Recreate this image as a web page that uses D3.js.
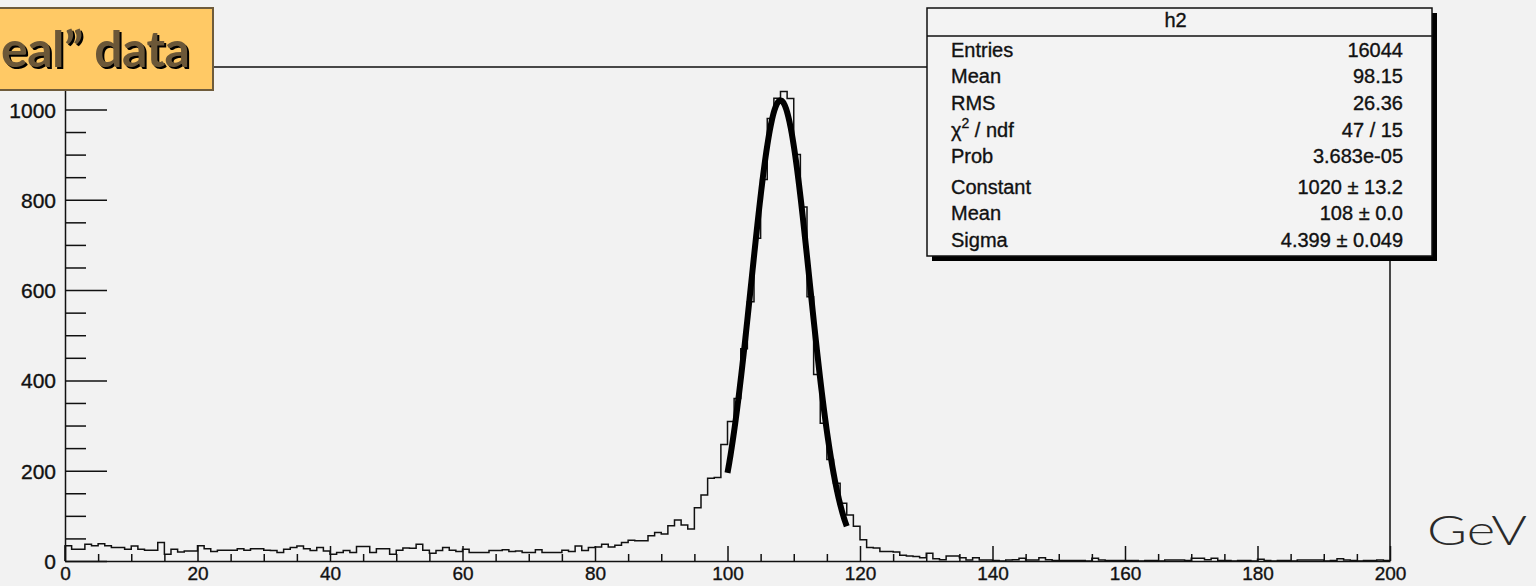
<!DOCTYPE html>
<html>
<head>
<meta charset="utf-8">
<script src="https://cdn.jsdelivr.net/npm/d3@7"></script>
<style>
  html, body { margin: 0; padding: 0; background: #f2f2f2; overflow: hidden; }
  svg { display: block; }
</style>
</head>
<body>
<svg id="chart" width="1536" height="586"></svg>
<script>
// ---------------- data ----------------
const histName = "h2";
const xRange = [0, 200];          // histogram range (GeV), 200 bins of width 1
const yMax = 1094;                // top of frame in counts
const counts = [
  34,26,26,37,34,38,34,30,30,26, 33,26,24,24,41,15,26,20,22,22,
  34,27,21,24,24,24,27,24,27,27, 24,23,19,26,30,33,27,23,30,22,
  15,19,23,19,32,32,19,27,27,15, 24,29,28,37,24,17,23,30,24,21,
  26,19,19,19,23,23,25,21,22,19, 19,25,19,19,19,24,21,33,23,30,
  31,37,31,35,41,46,45,45,56,63, 60,78,91,80,71,118,146,183,185,258,
  309,360,470,574,715,845,980,1025,1040,1024, 900,784,585,413,305,225,172,128,102,77,
  47,30,29,21,21,20,13,11,10,7, 17,5,3,11,11,7,2,7,2,2,
  1,0,2,3,6,2,2,7,3,1, 1,1,1,1,0,6,2,1,1,1,
  1,1,0,1,1,0,2,2,2,1, 6,6,3,6,1,1,0,1,1,0,
  4,1,0,1,1,0,2,2,2,2, 0,1,5,2,1,0,1,1,2,1
];
const xMajorTicks = [0, 20, 40, 60, 80, 100, 120, 140, 160, 180, 200];
const yMajorTicks = [0, 200, 400, 600, 800, 1000];
const statLabels = ["Entries", "Mean", "RMS", "χ² / ndf", "Prob", "Constant", "Mean", "Sigma"];
const statValues = ["16044", "98.15", "26.36", "47 / 15", "3.683e-05", "1020 ± 13.2", "108 ± 0.0", "4.399 ± 0.049"];
const fitConstant = 1020;
const fitMean = 108;
const fitSigma = 4.399;
const fitRange = [100, 118];
const labelText = "eal” data";   // visible part of the (cropped) “Real” data label
const unitText = "GeV";

// ---------------- layout ----------------
const svg = d3.select("#chart");
const W = 1536, H = 586;
const plot = { left: 65, right: 1390, top: 67, bottom: 561 };
const axisFont = "'Liberation Sans', Arial, Helvetica, sans-serif";

svg.append("rect").attr("width", W).attr("height", H).attr("fill", "#f2f2f2");

const x = d3.scaleLinear().domain(xRange).range([plot.left, plot.right]);
const y = d3.scaleLinear().domain([0, yMax]).range([plot.bottom, plot.top]);

// frame
svg.append("path")
  .attr("d", `M${plot.left},${plot.top}H${plot.right}V${plot.bottom}`)
  .attr("fill", "none").attr("stroke", "#111").attr("stroke-width", 1.5);

// histogram step outline
const nb = counts.length;
const bw = (xRange[1] - xRange[0]) / nb;
let d = `M${x(xRange[0])},${y(0)}`;
counts.forEach((c, i) => {
  const x0 = xRange[0] + i * bw;
  d += `V${y(c)}H${x(x0 + bw)}`;
});
d += `V${y(0)}`;
svg.append("path").attr("d", d)
  .attr("fill", "none").attr("stroke", "#111").attr("stroke-width", 1.5)
  .attr("stroke-linejoin", "miter");

// fit curve (gaussian from fit parameters)
const fitPts = d3.range(0, 201).map(i => {
  const xv = fitRange[0] + (fitRange[1] - fitRange[0]) * i / 200;
  return [xv, fitConstant * Math.exp(-((xv - fitMean) ** 2) / (2 * fitSigma * fitSigma))];
});
svg.append("path")
  .attr("d", d3.line().x(p => x(p[0])).y(p => y(p[1]))(fitPts))
  .attr("fill", "none").attr("stroke", "#000").attr("stroke-width", 6)
  .attr("stroke-linecap", "butt");

// axes
function styleAxis(g, fs) {
  g.attr("font-family", axisFont).attr("font-size", fs);
  g.selectAll("line").attr("stroke", "#111").attr("stroke-width", 1.5);
  g.selectAll("path.domain").attr("stroke", "#111").attr("stroke-width", 1.5);
  g.selectAll("text").attr("fill", "#111").attr("stroke", "#111").attr("stroke-width", 0.35);
}
// y minor
const yMinor = d3.range(0, yMax, 50).filter(v => !yMajorTicks.includes(v));
const gyMinor = svg.append("g").attr("transform", `translate(${plot.left},0)`)
  .call(d3.axisLeft(y).tickValues(yMinor).tickSize(-21).tickFormat(""));
gyMinor.select(".domain").remove();
styleAxis(gyMinor, 21);
// y major
const gy = svg.append("g").attr("transform", `translate(${plot.left},0)`)
  .call(d3.axisLeft(y).tickValues(yMajorTicks).tickSize(-42).tickPadding(9)
    .tickSizeOuter(0).tickFormat(d3.format("d")));
styleAxis(gy, 21);
gy.selectAll("text").attr("dy", "0.36em");

// x minor
const xMinor = d3.range(0, 200, 5).filter(v => !xMajorTicks.includes(v));
const gxMinor = svg.append("g").attr("transform", `translate(0,${plot.bottom})`)
  .call(d3.axisBottom(x).tickValues(xMinor).tickSize(-7).tickFormat(""));
gxMinor.select(".domain").remove();
styleAxis(gxMinor, 19);
// x major
const gx = svg.append("g").attr("transform", `translate(0,${plot.bottom})`)
  .call(d3.axisBottom(x).tickValues(xMajorTicks).tickSize(-15).tickPadding(5)
    .tickSizeOuter(0).tickFormat(d3.format("d")));
styleAxis(gx, 19);
gx.selectAll("text").attr("dy", "0.72em");

// label box "Real data" (cropped at the left edge in the reference)
svg.append("rect").attr("x", -3).attr("y", 8).attr("width", 216).attr("height", 82)
  .attr("fill", "#ffc965").attr("stroke", "#6f5c3c").attr("stroke-width", 2);
const lblG = svg.append("g").attr("font-family", "Lato, 'DejaVu Sans', sans-serif")
  .attr("font-weight", 700).attr("font-size", 50).attr("text-anchor", "start");
lblG.append("text").attr("x", 3).attr("y", 69).attr("fill", "#000")
  .attr("textLength", 189).attr("lengthAdjust", "spacing").text(labelText);
lblG.append("text").attr("x", 1).attr("y", 67).attr("fill", "#6b5738")
  .attr("textLength", 189).attr("lengthAdjust", "spacing").text(labelText);

// stats box
const sb = { x: 927, y: 8, w: 505, h: 248, head: 28 };
svg.append("rect").attr("x", sb.x + 5).attr("y", sb.y + 5).attr("width", sb.w).attr("height", sb.h)
  .attr("fill", "#000");
svg.append("rect").attr("x", sb.x).attr("y", sb.y).attr("width", sb.w).attr("height", sb.h)
  .attr("fill", "#f3f3f3").attr("stroke", "#111").attr("stroke-width", 1.5);
svg.append("line").attr("x1", sb.x).attr("x2", sb.x + sb.w).attr("y1", sb.y + sb.head).attr("y2", sb.y + sb.head)
  .attr("stroke", "#111").attr("stroke-width", 1.5);
const sg = svg.append("g").attr("font-family", axisFont).attr("font-size", 20)
  .attr("fill", "#111").attr("stroke", "#111").attr("stroke-width", 0.35);
sg.append("text").attr("x", sb.x + sb.w / 2 - 4).attr("y", 27).attr("text-anchor", "middle").text(histName);
const rowY = i => i < 5 ? 56.7 + i * 26.67 : 194 + (i - 5) * 26.4;
statLabels.forEach((lab, i) => {
  const t = sg.append("text").attr("x", 951).attr("y", rowY(i));
  if (lab.includes("²")) {
    const parts = lab.split("²");
    t.append("tspan").text(parts[0]);
    t.append("tspan").attr("font-size", 14).attr("dy", -9).text("2");
    t.append("tspan").attr("dy", 9).text(parts[1]);
  } else {
    t.text(lab);
  }
});
statValues.forEach((v, i) => {
  sg.append("text").attr("x", 1403).attr("y", rowY(i)).attr("text-anchor", "end").text(v);
});

// unit
svg.append("text").attr("x", 1427).attr("y", 545)
  .attr("font-family", "Lato, 'DejaVu Sans', sans-serif").attr("font-size", 42)
  .attr("font-weight", 300)
  .attr("fill", "#2a2a2a").attr("textLength", 100).attr("lengthAdjust", "spacingAndGlyphs")
  .text(unitText);
</script>
</body>
</html>
